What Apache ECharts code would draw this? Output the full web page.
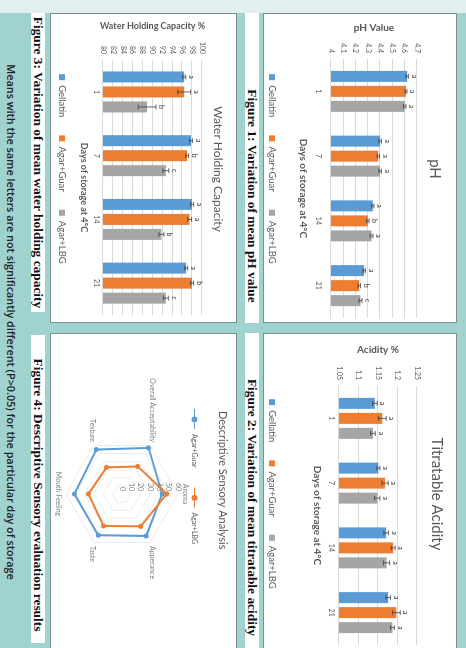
<!DOCTYPE html>
<html lang="en">
<head>
<meta charset="UTF-8">
<title>Storage study charts</title>
<script src="https://cdn.jsdelivr.net/npm/echarts@6/dist/echarts.min.js"></script>
<style>
  body { margin: 0; width: 466px; height: 648px; overflow: hidden; background: #a0d2d0; }
  /* the poster is laid out landscape and turned a quarter clockwise */
  #poster { position: absolute; left: 0; top: 0; width: 648px; height: 466px; background: #a0d2d0;
            transform-origin: 0 0; transform: translateX(466px) rotate(90deg); }
  .band { position: absolute; left: 0; top: 0; width: 13px; height: 466px; background: #e1f0ee; }
  .panel { position: absolute; background: #fff; border: 1px solid #7d8f8f; box-sizing: border-box; overflow: hidden; }
  .panel > div { position: absolute; left: 0; top: 0; }
  .cap { position: absolute; background: #fff; font: bold 13.4px "Liberation Serif", serif; color: #111;
         line-height: 14px; white-space: nowrap; text-align: center; box-sizing: border-box; }
  .note { position: absolute; left: 0; top: 447px; width: 644px; text-align: center;
          font: 600 10.8px "Open Sans", sans-serif; color: #222; white-space: nowrap; }
</style>
</head>
<body>
<div id="poster">
  <div class="band"></div>
  <div class="panel" style="left:13px;top:9px;width:310px;height:194px;"><div id="chart1" style="width:310px;height:194px;"></div></div>
  <div class="panel" style="left:333px;top:9px;width:320px;height:194px;"><div id="chart2" style="width:320px;height:194px;"></div></div>
  <div class="panel" style="left:13px;top:229px;width:310px;height:187px;"><div id="chart3" style="width:310px;height:187px;"></div></div>
  <div class="panel" style="left:333px;top:229px;width:320px;height:187px;"><div id="chart4" style="width:320px;height:187px;"></div></div>
  <div class="cap" style="left:13px;top:207px;width:310px;height:14px;padding-left:56px;">Figure 1: Variation of mean pH value</div>
  <div class="cap" style="left:333px;top:207px;width:315px;height:14px;padding-left:34px;">Figure 2: Variation of mean titratable acidity</div>
  <div class="cap" style="left:13px;top:421px;width:299px;height:14px;">Figure 3: Variation of mean water holding capacity</div>
  <div class="cap" style="left:335px;top:421px;width:308px;height:14px;padding-left:12px;">Figure 4: Descriptive Sensory evaluation results</div>
  <div class="note">Means with the same letters are not significantly different (P&gt;0.05) for the particular day of storage</div>
</div>
<script>
    // 数据
    var days = ['1', '7', '14', '21'];
    var groups = ['Gellatin', 'Agar+Guar', 'Agar+LBG'];
    var groupColors = ['#5b9bd5', '#ed7d31', '#a5a5a5'];

    // pH (rows: Gellatin, Agar+Guar, Agar+LBG)
    var phMeans = [
        [4.62, 4.40, 4.34, 4.27],
        [4.61, 4.385, 4.30, 4.23],
        [4.60, 4.40, 4.33, 4.24]
    ];
    var phErrors = [
        [0.01, 0.01, 0.01, 0.01],
        [0.008, 0.01, 0.01, 0.01],
        [0.01, 0.01, 0.012, 0.012]
    ];
    var phLetters = [
        ['a', 'a', 'a', 'a'],
        ['a', 'a', 'b', 'b'],
        ['a', 'a', 'a', 'c']
    ];

    // titratable acidity %
    var acidMeans = [
        [1.142, 1.151, 1.171, 1.176],
        [1.161, 1.168, 1.189, 1.197],
        [1.137, 1.148, 1.172, 1.187]
    ];
    var acidErrors = [
        [0.006, 0.004, 0.006, 0.006],
        [0.01, 0.008, 0.005, 0.01],
        [0.006, 0.007, 0.008, 0.005]
    ];
    var acidLetters = [
        ['a', 'a', 'a', 'a'],
        ['a', 'a', 'a', 'a'],
        ['a', 'a', 'a', 'a']
    ];

    // water holding capacity %
    var whcMeans = [
        [96.4, 97.8, 98.0, 96.8],
        [96.4, 97.0, 97.5, 98.0],
        [88.9, 92.7, 91.8, 92.7]
    ];
    var whcErrors = [
        [0.3, 0.3, 0.3, 0.3],
        [1.3, 0.3, 0.4, 0.3],
        [1.8, 0.6, 0.5, 0.5]
    ];
    var whcLetters = [
        ['a', 'a', 'a', 'a'],
        ['a', 'b', 'a', 'b'],
        ['b', 'c', 'b', 'c']
    ];

    // sensory radar (listed counter-clockwise from the top)
    var sensoryAttrs = ['Aroma', 'Overall Acceptability', 'Texture', 'Mouth Feeling', 'Taste', 'Apperance'];
    var sensoryGuar = [43, 57, 55, 51, 51, 52];
    var sensoryLbg = [48, 34, 33, 36, 39.5, 40];

    var FONT = 'Lato, "Open Sans", sans-serif';
    var GREY = '#595959';
    var BAR_W = 11;
    var BAR_GAP = 4;

    // 误差线和字母
    function errorSeries(means, errs, letters, gi) {
        return {
            type: 'custom',
            z: 10,
            silent: true,
            data: means.map(function (m, i) { return [i, m, errs[i]]; }),
            renderItem: function (params, api) {
                var x = api.coord([api.value(0), api.value(1)])[0] + (gi - 1) * (BAR_W + BAR_GAP);
                var lo = api.coord([api.value(0), api.value(1) - api.value(2)])[1];
                var hi = api.coord([api.value(0), api.value(1) + api.value(2)])[1];
                var st = { stroke: '#404040', lineWidth: 0.8 };
                return {
                    type: 'group',
                    children: [
                        { type: 'line', shape: { x1: x, y1: lo, x2: x, y2: hi }, style: st },
                        { type: 'line', shape: { x1: x - 2.5, y1: lo, x2: x + 2.5, y2: lo }, style: st },
                        { type: 'line', shape: { x1: x - 2.5, y1: hi, x2: x + 2.5, y2: hi }, style: st },
                        { type: 'text', style: { text: letters[params.dataIndex], x: x, y: hi - 2,
                            align: 'center', verticalAlign: 'bottom', fontSize: 7, fill: '#333', fontFamily: FONT } }
                    ]
                };
            }
        };
    }

    function barChart(cfg) {
        var series = [];
        groups.forEach(function (g, gi) {
            series.push({
                name: g,
                type: 'bar',
                data: cfg.means[gi],
                barWidth: BAR_W,
                barGap: (BAR_GAP / BAR_W * 100) + '%',
                itemStyle: { color: groupColors[gi] }
            });
        });
        groups.forEach(function (g, gi) {
            series.push(errorSeries(cfg.means[gi], cfg.errs[gi], cfg.letters[gi], gi));
        });
        return {
            animation: false,
            textStyle: { fontFamily: FONT },
            title: {
                text: cfg.title, left: cfg.titleLeft, top: cfg.titleTop,
                textStyle: { fontSize: cfg.titleSize, fontWeight: 'normal', color: GREY, fontFamily: FONT }
            },
            legend: {
                data: groups, top: cfg.legendTop, left: 'center', icon: 'rect',
                itemWidth: 6, itemHeight: 6, itemGap: 18,
                textStyle: { fontSize: 9.5, color: GREY, fontFamily: FONT }
            },
            grid: cfg.grid,
            xAxis: {
                type: 'category', data: days,
                axisLine: { lineStyle: { color: '#d9d9d9' } },
                axisTick: { show: false },
                axisLabel: { fontSize: 7, color: GREY, margin: cfg.xLabelMargin },
                name: 'Days of storage at 4°C', nameLocation: 'middle', nameGap: cfg.xNameGap,
                nameTextStyle: { fontSize: cfg.nameSize, fontWeight: 'bold', color: GREY, fontFamily: FONT }
            },
            yAxis: {
                type: 'value', min: cfg.min, max: cfg.max, interval: cfg.interval,
                axisLine: { show: false }, axisTick: { show: false },
                splitLine: { lineStyle: { color: '#d9d9d9' } },
                axisLabel: { fontSize: 7, color: GREY, margin: 6, formatter: function (v) { return String(+v.toFixed(2)); } },
                name: cfg.yName, nameLocation: 'middle', nameRotate: 90, nameGap: cfg.yNameGap,
                nameTextStyle: { fontSize: cfg.nameSize, fontWeight: 'bold', color: GREY, fontFamily: FONT }
            },
            series: series
        };
    }

    var myChart1 = echarts.init(document.getElementById('chart1'));
    var myChart2 = echarts.init(document.getElementById('chart2'));
    var myChart3 = echarts.init(document.getElementById('chart3'));
    var myChart4 = echarts.init(document.getElementById('chart4'));

    myChart1.setOption(barChart({
        title: 'pH', titleLeft: 'center', titleTop: 9, titleSize: 15,
        legendTop: 174, grid: { left: 45, width: 259, top: 39, height: 86 },
        xLabelMargin: 9, xNameGap: 23, nameSize: 10,
        min: 4, max: 4.7, interval: 0.1, yName: 'pH Value', yNameGap: 20,
        means: phMeans, errs: phErrors, letters: phLetters
    }));

    myChart2.setOption(barChart({
        title: 'Titratable Acidity', titleLeft: 'center', titleTop: 7, titleSize: 15,
        legendTop: 174, grid: { left: 52, width: 259, top: 39, height: 78 },
        xLabelMargin: 4, xNameGap: 17, nameSize: 10,
        min: 1.05, max: 1.25, interval: 0.05, yName: 'Acidity %', yNameGap: 26,
        means: acidMeans, errs: acidErrors, letters: acidLetters
    }));

    myChart3.setOption(barChart({
        title: 'Water Holding Capacity', titleLeft: 'center', titleTop: 7, titleSize: 12,
        legendTop: 164, grid: { left: 45, width: 256, top: 34, height: 99 },
        xLabelMargin: 3, xNameGap: 14, nameSize: 9,
        min: 80, max: 100, interval: 2, yName: 'Water Holding Capacity %', yNameGap: 20,
        means: whcMeans, errs: whcErrors, letters: whcLetters
    }));

    // 雷达图
    var indicators = sensoryAttrs.map(function (n, i) {
        var ind = { name: n, min: 0, max: 60 };
        if (i > 0) { ind.axisLabel = { show: false }; }
        return ind;
    });
    var lineDot = 'path://M0,2.5h7.5v1h-7.5z M13,2.5h7v1h-7z M7.5,3a3,3 0 1,0 6,0a3,3 0 1,0 -6,0z';
    myChart4.setOption({
        animation: false,
        textStyle: { fontFamily: FONT },
        title: {
            text: 'Descriptive Sensory Analysis', left: 72, top: 3,
            textStyle: { fontSize: 11, fontWeight: 'normal', color: GREY, fontFamily: FONT }
        },
        legend: {
            data: ['Agar+Guar', 'Agar+LBG'], top: 33, left: 70, icon: lineDot,
            itemWidth: 20, itemHeight: 6, itemGap: 20,
            textStyle: { fontSize: 7, color: GREY, fontFamily: FONT }
        },
        radar: {
            center: [160, 114], radius: 56, startAngle: 90, shape: 'polygon', splitNumber: 6,
            indicator: indicators,
            axisName: { color: '#808080', fontSize: 7, fontFamily: FONT },
            nameGap: 4,
            axisLine: { show: false },
            axisTick: { show: false },
            splitArea: { show: false },
            splitLine: { lineStyle: { color: '#e2e8ef', width: 0.8 } },
            axisLabel: { show: true, fontSize: 7, color: '#808080', margin: 3, showMinLabel: true }
        },
        series: [{
            type: 'radar',
            symbol: 'circle', symbolSize: 5,
            data: [
                { name: 'Agar+Guar', value: sensoryGuar,
                  itemStyle: { color: '#5b9bd5' }, lineStyle: { color: '#5b9bd5', width: 2 } },
                { name: 'Agar+LBG', value: sensoryLbg,
                  itemStyle: { color: '#ed7d31' }, lineStyle: { color: '#ed7d31', width: 2 } }
            ]
        }]
    });
</script>
</body>
</html>
